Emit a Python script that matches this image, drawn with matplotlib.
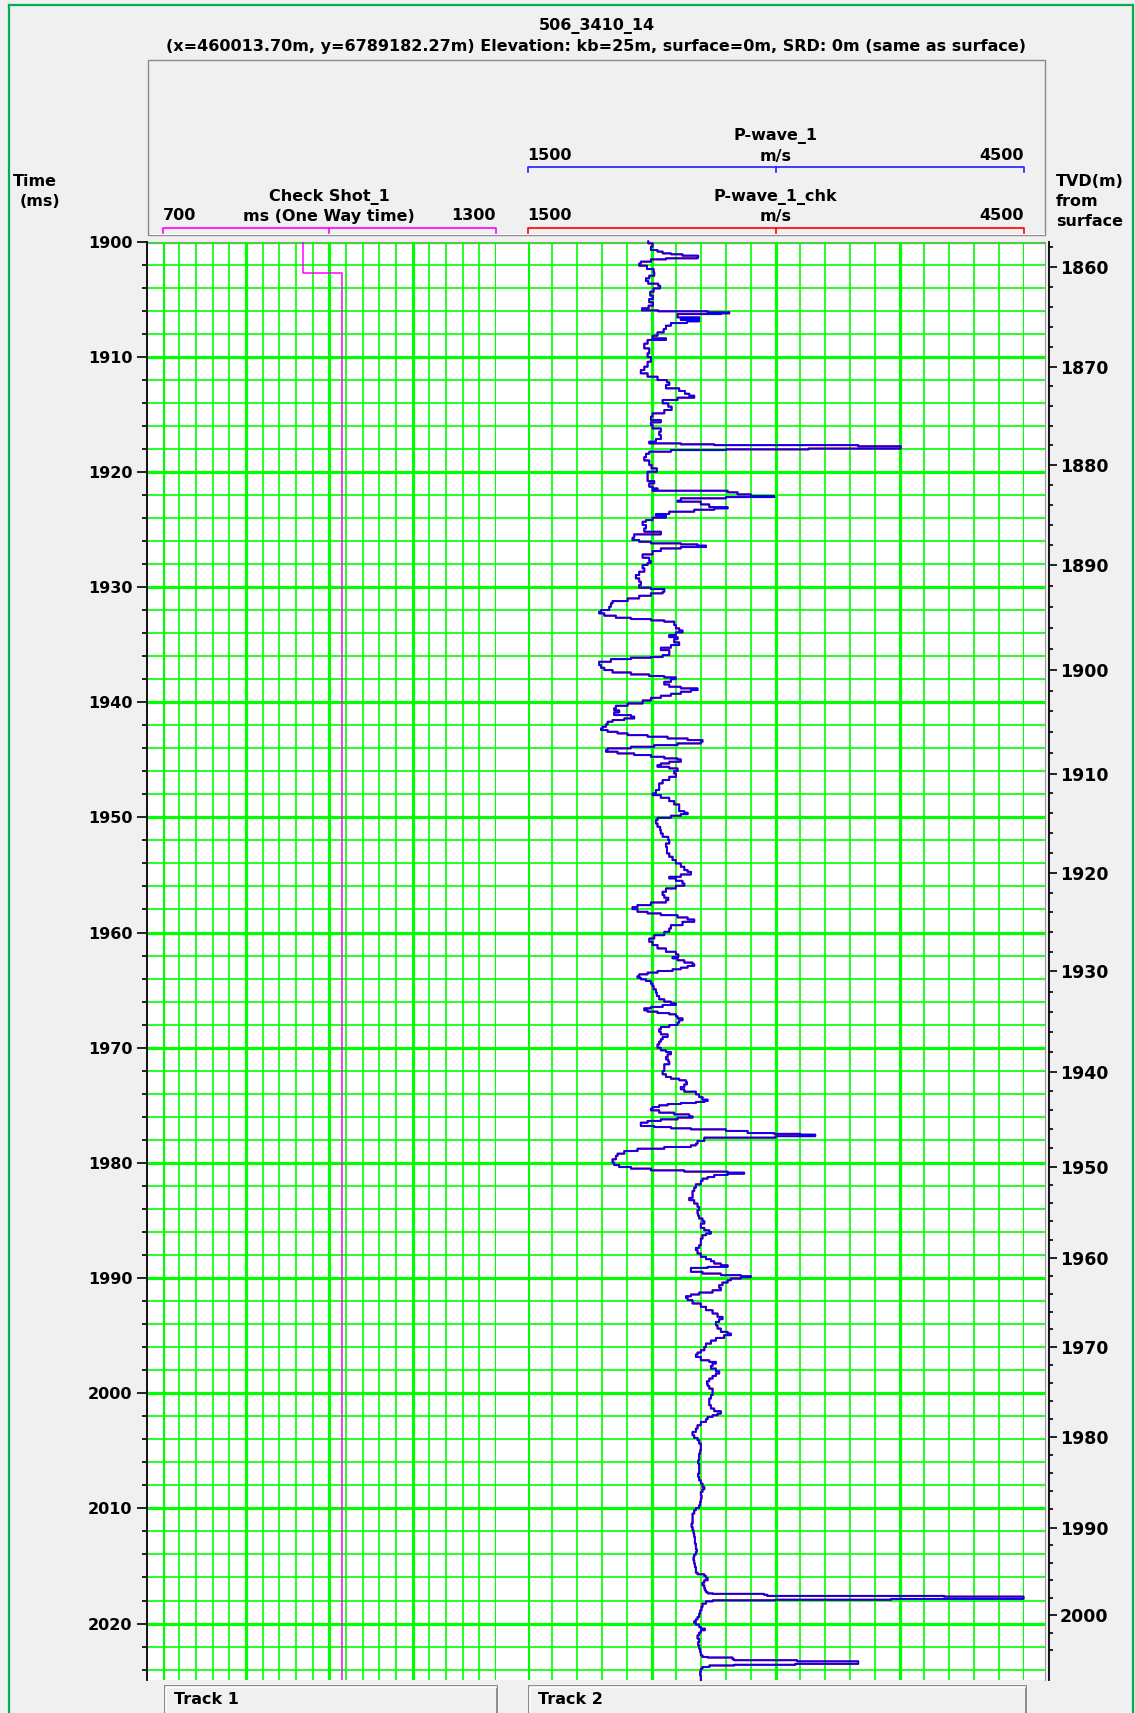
import numpy as np
import matplotlib
matplotlib.use('Agg')
import matplotlib.pyplot as plt
from matplotlib.patches import Rectangle

plt.rcParams['font.family'] = 'DejaVu Sans'
plt.rcParams['font.weight'] = 'bold'

# Figure size in pixels and colours
W, H = 1135, 1713
BG = '#f0f0f0'
GRID = '#00ff00'

# Display window (two-way time, ms)
T_TOP, T_BOT = 1900.0, 2024.9

# Layout in pixels (from top-left of the picture)
PLOT_L, PLOT_R, PLOT_T, PLOT_B = 148, 1045, 241.5, 1680
TRACK1 = (162.7, 496.0)
TRACK2 = (527.6, 1023.5)

# Track scales
cs_range = (700, 1300)
vel_range = (1500, 4500)

# Check Shot_1 (one way time, ms) against display time
cs_time = [1900.0, 1902.77, 1902.77, T_BOT]
cs_owt = [953, 953, 1023, 1023]

# TVD axis: label value and the display time where it sits
tvd_labels = [1860, 1870, 1880, 1890, 1900, 1910, 1920, 1930, 1940, 1950,
              1960, 1970, 1980, 1990, 2000]
tvd_times = [1902.19, 1910.87, 1919.42, 1928.08, 1937.19, 1946.20, 1954.84,
             1963.38, 1972.11, 1980.36, 1988.24, 1996.02, 2003.80, 2011.67,
             2019.28]

pwave_time = [
    1900.00, 1900.16, 1900.45, 1900.74, 1900.88, 1901.03, 1901.11, 1901.23, 1901.38, 1901.46,
    1901.55, 1901.75, 1901.92, 1902.10, 1902.39, 1902.68, 1902.97, 1903.20, 1903.43, 1903.66,
    1903.84, 1904.07, 1904.36, 1904.70, 1904.99, 1905.28, 1905.57, 1905.80, 1905.98, 1906.06,
    1906.15, 1906.24, 1906.30, 1906.47, 1906.59, 1906.70, 1906.82, 1906.93, 1907.08, 1907.31,
    1907.60, 1907.89, 1908.18, 1908.41, 1908.55, 1908.87, 1909.28, 1909.71, 1910.03, 1910.44,
    1910.87, 1911.16, 1911.45, 1911.74, 1912.03, 1912.23, 1912.46, 1912.75, 1912.98, 1913.22,
    1913.39, 1913.56, 1913.76, 1914.05, 1914.34, 1914.63, 1914.92, 1915.21, 1915.50, 1915.70,
    1915.94, 1916.23, 1916.52, 1916.80, 1917.15, 1917.38, 1917.53, 1917.61, 1917.68, 1917.78,
    1917.92, 1917.98, 1918.05, 1918.11, 1918.25, 1918.43, 1918.72, 1919.01, 1919.41, 1919.70,
    1919.99, 1920.28, 1920.57, 1920.80, 1921.00, 1921.29, 1921.44, 1921.58, 1921.64, 1921.78,
    1921.96, 1922.10, 1922.19, 1922.30, 1922.51, 1922.59, 1922.83, 1923.06, 1923.17, 1923.29,
    1923.46, 1923.66, 1923.81, 1923.98, 1924.19, 1924.33, 1924.62, 1924.91, 1925.20, 1925.43,
    1925.72, 1925.92, 1926.07, 1926.21, 1926.30, 1926.41, 1926.53, 1926.65, 1926.88, 1927.17,
    1927.46, 1927.75, 1927.92, 1928.09, 1928.38, 1928.67, 1928.96, 1929.25, 1929.54, 1929.83,
    1930.06, 1930.18, 1930.41, 1930.55, 1930.76, 1930.99, 1931.22, 1931.42, 1931.71, 1932.00,
    1932.15, 1932.29, 1932.49, 1932.67, 1932.78, 1932.90, 1933.01, 1933.30, 1933.59, 1933.77,
    1933.94, 1934.17, 1934.35, 1934.52, 1934.81, 1935.04, 1935.27, 1935.48, 1935.68, 1935.91,
    1936.08, 1936.14, 1936.26, 1936.49, 1936.78, 1937.01, 1937.21, 1937.42, 1937.59, 1937.73,
    1937.85, 1938.00, 1938.23, 1938.46, 1938.66, 1938.80, 1938.95, 1939.09, 1939.27, 1939.44,
    1939.62, 1939.85, 1940.11, 1940.31, 1940.54, 1940.71, 1940.89, 1941.12, 1941.26, 1941.41,
    1941.55, 1941.70, 1941.93, 1942.13, 1942.28, 1942.42, 1942.57, 1942.71, 1942.86, 1943.00,
    1943.15, 1943.29, 1943.44, 1943.58, 1943.73, 1943.87, 1944.01, 1944.16, 1944.30, 1944.45,
    1944.59, 1944.74, 1944.88, 1944.97, 1945.17, 1945.32, 1945.46, 1945.61, 1945.75, 1945.98,
    1946.19, 1946.48, 1946.76, 1947.05, 1947.34, 1947.63, 1947.92, 1948.07, 1948.30, 1948.59,
    1948.88, 1949.23, 1949.46, 1949.60, 1949.72, 1949.86, 1950.04, 1950.24, 1950.53, 1950.82,
    1951.11, 1951.40, 1951.69, 1951.98, 1952.27, 1952.55, 1952.84, 1953.13, 1953.42, 1953.71,
    1954.00, 1954.29, 1954.58, 1954.73, 1954.96, 1955.16, 1955.30, 1955.51, 1955.74, 1955.94,
    1956.17, 1956.46, 1956.75, 1956.98, 1957.19, 1957.39, 1957.62, 1957.79, 1957.97, 1958.20,
    1958.34, 1958.49, 1958.69, 1958.87, 1959.07, 1959.36, 1959.65, 1959.94, 1960.23, 1960.52,
    1960.80, 1961.09, 1961.38, 1961.67, 1961.90, 1962.12, 1962.24, 1962.41, 1962.61, 1962.76,
    1962.90, 1963.05, 1963.19, 1963.34, 1963.48, 1963.63, 1963.80, 1963.92, 1964.06, 1964.21,
    1964.44, 1964.64, 1964.93, 1965.22, 1965.51, 1965.80, 1966.00, 1966.15, 1966.29, 1966.46,
    1966.58, 1966.75, 1966.87, 1966.99, 1967.10, 1967.27, 1967.45, 1967.62, 1967.82, 1968.03,
    1968.20, 1968.40, 1968.61, 1968.84, 1969.07, 1969.27, 1969.47, 1969.71, 1970.00, 1970.23,
    1970.37, 1970.57, 1970.81, 1971.01, 1971.21, 1971.44, 1971.73, 1972.02, 1972.31, 1972.54,
    1972.69, 1972.83, 1972.98, 1973.18, 1973.41, 1973.61, 1973.82, 1974.05, 1974.28, 1974.51,
    1974.63, 1974.71, 1974.80, 1974.89, 1975.00, 1975.15, 1975.29, 1975.44, 1975.64, 1975.79,
    1975.96, 1976.07, 1976.22, 1976.36, 1976.51, 1976.65, 1976.80, 1976.89, 1977.00, 1977.09,
    1977.23, 1977.41, 1977.48, 1977.55, 1977.62, 1977.68, 1977.81, 1978.10, 1978.33, 1978.48,
    1978.62, 1978.77, 1978.97, 1979.20, 1979.40, 1979.69, 1979.98, 1980.19, 1980.36, 1980.50,
    1980.65, 1980.76, 1980.85, 1980.94, 1981.05, 1981.23, 1981.37, 1981.57, 1981.86, 1982.15,
    1982.44, 1982.73, 1983.04, 1983.24, 1983.53, 1983.82, 1984.11, 1984.40, 1984.60, 1984.83,
    1985.06, 1985.27, 1985.41, 1985.64, 1985.85, 1985.99, 1986.14, 1986.28, 1986.57, 1986.86,
    1987.15, 1987.38, 1987.58, 1987.87, 1988.16, 1988.36, 1988.54, 1988.74, 1988.89, 1989.03,
    1989.12, 1989.32, 1989.46, 1989.61, 1989.75, 1989.84, 1989.93, 1990.04, 1990.19, 1990.39,
    1990.62, 1990.85, 1991.06, 1991.26, 1991.43, 1991.58, 1991.72, 1991.92, 1992.21, 1992.50,
    1992.79, 1993.08, 1993.37, 1993.57, 1993.81, 1994.10, 1994.39, 1994.67, 1994.82, 1994.96,
    1995.20, 1995.43, 1995.69, 1995.98, 1996.27, 1996.47, 1996.64, 1996.85, 1997.14, 1997.28,
    1997.42, 1997.63, 1997.86, 1998.09, 1998.29, 1998.50, 1998.73, 1998.96, 1999.16, 1999.36,
    1999.60, 1999.89, 2000.17, 2000.46, 2000.75, 2001.04, 2001.33, 2001.56, 2001.77, 2001.91,
    2002.06, 2002.26, 2002.49, 2002.78, 2003.07, 2003.36, 2003.65, 2003.88, 2004.08, 2004.37,
    2004.66, 2004.95, 2005.24, 2005.53, 2005.82, 2006.11, 2006.40, 2006.69, 2006.98, 2007.27,
    2007.56, 2007.85, 2008.14, 2008.34, 2008.57, 2008.86, 2009.15, 2009.44, 2009.73, 2009.96,
    2010.16, 2010.45, 2010.74, 2011.03, 2011.32, 2011.61, 2011.90, 2012.19, 2012.48, 2012.77,
    2013.06, 2013.35, 2013.55, 2013.78, 2014.01, 2014.22, 2014.51, 2014.79, 2015.08, 2015.37,
    2015.58, 2015.72, 2015.87, 2016.04, 2016.24, 2016.45, 2016.68, 2016.91, 2017.11, 2017.26,
    2017.38, 2017.42, 2017.50, 2017.60, 2017.66, 2017.78, 2017.86, 2017.93, 2017.98, 2018.07,
    2018.27, 2018.56, 2018.85, 2019.14, 2019.43, 2019.63, 2019.80, 2019.95, 2020.09, 2020.30,
    2020.44, 2020.58, 2020.79, 2021.02, 2021.31, 2021.60, 2021.89, 2022.18, 2022.47, 2022.76,
    2022.90, 2022.95, 2023.10, 2023.18, 2023.28, 2023.40, 2023.50, 2023.58, 2023.64, 2023.77,
    2023.91, 2024.20, 2024.49, 2024.90,
]
pwave_vel = [
    2230, 2256, 2246, 2286, 2317, 2367, 2437, 2532, 2528, 2337,
    2246, 2185, 2175, 2222, 2262, 2266, 2236, 2216, 2230, 2290,
    2302, 2262, 2242, 2258, 2236, 2258, 2232, 2192, 2290, 2589,
    2720, 2670, 2407, 2407, 2538, 2427, 2538, 2464, 2367, 2337,
    2323, 2286, 2256, 2337, 2226, 2206, 2236, 2226, 2246, 2226,
    2206, 2185, 2226, 2286, 2343, 2357, 2337, 2417, 2452, 2478,
    2508, 2407, 2317, 2351, 2371, 2327, 2256, 2246, 2306, 2246,
    2256, 2306, 2296, 2306, 2276, 2236, 2427, 2629, 3500, 3757,
    3757, 3200, 2700, 2367, 2236, 2216, 2206, 2236, 2250, 2282,
    2226, 2226, 2226, 2266, 2236, 2256, 2286, 2256, 2710, 2770,
    2851, 2992, 2700, 2427, 2407, 2548, 2599, 2710, 2629, 2508,
    2357, 2276, 2337, 2256, 2216, 2196, 2216, 2206, 2306, 2145,
    2135, 2175, 2246, 2427, 2528, 2579, 2427, 2306, 2256, 2196,
    2236, 2246, 2226, 2196, 2206, 2175, 2155, 2175, 2185, 2175,
    2246, 2327, 2317, 2246, 2175, 2105, 2014, 2004, 1994, 1944,
    1933, 1964, 2034, 2125, 2246, 2327, 2387, 2397, 2417, 2437,
    2397, 2357, 2407, 2387, 2417, 2367, 2306, 2357, 2357, 2317,
    2246, 2125, 2004, 1933, 1944, 1964, 2014, 2125, 2236, 2327,
    2397, 2367, 2327, 2357, 2427, 2528, 2488, 2427, 2367, 2306,
    2246, 2196, 2105, 2034, 2024, 2054, 2024, 2125, 2145, 2085,
    2014, 1984, 1974, 1954, 1944, 1984, 2044, 2105, 2226, 2347,
    2468, 2558, 2548, 2407, 2266, 2125, 1984, 1974, 2044, 2145,
    2246, 2327, 2407, 2427, 2357, 2306, 2286, 2357, 2407, 2387,
    2397, 2357, 2317, 2296, 2296, 2276, 2256, 2306, 2357, 2387,
    2417, 2417, 2448, 2468, 2427, 2367, 2286, 2276, 2286, 2302,
    2306, 2317, 2351, 2357, 2337, 2343, 2343, 2357, 2377, 2397,
    2427, 2448, 2468, 2488, 2427, 2357, 2397, 2437, 2448, 2397,
    2337, 2317, 2327, 2351, 2337, 2246, 2165, 2135, 2165, 2226,
    2306, 2407, 2468, 2508, 2437, 2367, 2357, 2327, 2266, 2236,
    2256, 2286, 2337, 2397, 2412, 2377, 2407, 2448, 2498, 2508,
    2468, 2427, 2377, 2286, 2226, 2175, 2165, 2185, 2216, 2246,
    2256, 2262, 2276, 2282, 2296, 2327, 2367, 2397, 2317, 2246,
    2206, 2226, 2286, 2357, 2397, 2407, 2437, 2417, 2407, 2357,
    2306, 2296, 2306, 2347, 2317, 2306, 2296, 2286, 2306, 2337,
    2367, 2347, 2337, 2351, 2357, 2327, 2327, 2317, 2337, 2367,
    2417, 2458, 2464, 2448, 2427, 2448, 2518, 2538, 2558, 2589,
    2569, 2518, 2427, 2347, 2296, 2256, 2246, 2296, 2387, 2478,
    2498, 2407, 2306, 2226, 2185, 2185, 2266, 2367, 2488, 2700,
    2831, 2992, 3150, 3240, 3240, 3000, 2569, 2528, 2518, 2488,
    2327, 2165, 2085, 2044, 2034, 2014, 2024, 2054, 2125, 2246,
    2448, 2710, 2810, 2710, 2629, 2589, 2558, 2548, 2518, 2508,
    2498, 2498, 2478, 2508, 2528, 2538, 2528, 2532, 2538, 2558,
    2569, 2548, 2548, 2569, 2599, 2609, 2579, 2558, 2548, 2548,
    2538, 2518, 2528, 2548, 2579, 2609, 2629, 2669, 2710, 2589,
    2488, 2488, 2558, 2669, 2790, 2851, 2790, 2730, 2710, 2679,
    2659, 2669, 2619, 2538, 2488, 2458, 2468, 2498, 2548, 2579,
    2619, 2649, 2679, 2659, 2639, 2649, 2669, 2710, 2730, 2689,
    2639, 2609, 2579, 2569, 2548, 2528, 2518, 2548, 2599, 2639,
    2619, 2609, 2639, 2659, 2639, 2619, 2599, 2585, 2589, 2599,
    2619, 2619, 2609, 2599, 2599, 2609, 2629, 2669, 2649, 2619,
    2589, 2579, 2548, 2528, 2518, 2498, 2508, 2528, 2538, 2548,
    2548, 2544, 2538, 2538, 2532, 2538, 2538, 2538, 2532, 2538,
    2548, 2558, 2569, 2558, 2548, 2552, 2548, 2544, 2538, 2518,
    2508, 2498, 2498, 2498, 2492, 2498, 2504, 2508, 2512, 2512,
    2518, 2518, 2524, 2518, 2508, 2504, 2508, 2512, 2518, 2518,
    2528, 2569, 2579, 2589, 2569, 2558, 2569, 2572, 2579, 2589,
    2620, 2930, 2950, 4020, 4500, 4500, 3700, 3000, 2620, 2579,
    2558, 2552, 2544, 2538, 2528, 2518, 2508, 2518, 2538, 2548,
    2572, 2548, 2538, 2528, 2538, 2532, 2538, 2544, 2548, 2558,
    2589, 2740, 2750, 3130, 3500, 3500, 3120, 2750, 2600, 2558,
    2548, 2544, 2548, 2548,
]
# P-wave_1_chk sits on top of P-wave_1 almost everywhere
pwave_chk_vel = list(pwave_vel)


def fx(px):
    return px / W


def fy(py):
    return 1 - py / H


fig = plt.figure(figsize=(W / 100, H / 100), dpi=100, facecolor=BG)

# overlay in pixel units for header, frame and buttons
hdr = fig.add_axes([0, 0, 1, 1])
hdr.set_xlim(0, W)
hdr.set_ylim(H, 0)
hdr.axis('off')

# outer green frame
frame_kw = dict(color='#00b050', lw=1.6, clip_on=False)
hdr.plot([9, 9], [5, H + 5], **frame_kw)
hdr.plot([9, 1133], [5, 5], **frame_kw)
hdr.plot([1133, 1133], [5, H + 5], **frame_kw)

# titles
mid = (PLOT_L + PLOT_R) / 2
hdr.text(mid, 26, '506_3410_14', ha='center', va='center', fontsize=11.5)
hdr.text(mid, 47, '(x=460013.70m, y=6789182.27m) Elevation: kb=25m, surface=0m, SRD: 0m (same as surface)',
         ha='center', va='center', fontsize=11.5)

# header box
hdr.add_patch(Rectangle((PLOT_L, 60), PLOT_R - PLOT_L, 175, fill=False, ec='#8a8a8a', lw=1.0))
hdr.plot([PLOT_L + 1.5, PLOT_R - 1.5], [233.5, 233.5], color='white', lw=0.8)


def scale_bar(track, y, color, name, unit, lo, hi, name_y, unit_y):
    x0, x1 = track
    xm = (x0 + x1) / 2
    hdr.plot([x0, x0, x1, x1], [y + 5, y, y, y + 5], color=color, lw=1.2)
    hdr.plot([xm, xm], [y, y + 5], color=color, lw=1.2)
    hdr.text(xm, name_y, name, ha='center', va='center', fontsize=11.5)
    hdr.text(x0, unit_y, str(lo), ha='left', va='center', fontsize=11.5)
    hdr.text(xm, unit_y, unit, ha='center', va='center', fontsize=11.5)
    hdr.text(x1, unit_y, str(hi), ha='right', va='center', fontsize=11.5)


scale_bar(TRACK2, 167, '#2020ff', 'P-wave_1', 'm/s', vel_range[0], vel_range[1], 136, 156)
scale_bar(TRACK1, 228, '#ff00ff', 'Check Shot_1', 'ms (One Way time)', cs_range[0], cs_range[1], 197, 216)
scale_bar(TRACK2, 228, '#ff0000', 'P-wave_1_chk', 'm/s', vel_range[0], vel_range[1], 197, 216)

hdr.text(13, 181, 'Time', ha='left', va='center', fontsize=11.5)
hdr.text(20, 202, '(ms)', ha='left', va='center', fontsize=11.5)
hdr.text(1056, 181, 'TVD(m)', ha='left', va='center', fontsize=11.5)
hdr.text(1056, 202, 'from', ha='left', va='center', fontsize=11.5)
hdr.text(1056, 222, 'surface', ha='left', va='center', fontsize=11.5)

# track buttons at the bottom
for (x0, x1), label in [((165, 497), 'Track 1'), ((529, 1026), 'Track 2')]:
    hdr.add_patch(Rectangle((x0, 1686), x1 - x0, 40, fc=BG, ec='#7a7a7a', lw=1.2, clip_on=False))
    hdr.plot([x0 + 1, x0 + 1, x1 - 1], [1712, 1687, 1687], color='white', lw=1.2)
    hdr.text(x0 + 9, 1700, label, ha='left', va='center', fontsize=11.5)

# main plot area
rect = [fx(PLOT_L), fy(PLOT_B), fx(PLOT_R) - fx(PLOT_L), (PLOT_B - PLOT_T) / H]
ax = fig.add_axes(rect, facecolor='white')
ax.set_xlim(0, 1)
ax.set_ylim(T_BOT, T_TOP)
ax.set_xticks([])
for t in np.arange(1900, 2025, 2):
    ax.axhline(t, color=GRID, lw=2.3 if t % 10 == 0 else 1.2, zorder=1)

ax.set_yticks(np.arange(1900, 2021, 10))
ax.set_yticks(np.arange(1900, 2025, 2), minor=True)
ax.tick_params(axis='y', which='major', direction='out', length=7, width=1.2, labelsize=11.5, pad=3)
ax.tick_params(axis='y', which='minor', direction='out', length=3.5, width=1.2)
for lab in ax.get_yticklabels():
    lab.set_fontweight('bold')
ax.spines['left'].set_linewidth(1.3)
ax.spines['left'].set_position(('outward', 1))
ax.spines['bottom'].set_visible(False)
ax.spines['top'].set_color('#9a9a9a')
ax.spines['right'].set_color('#9a9a9a')

# TVD axis on the right
axr = ax.twinx()
axr.set_ylim(T_BOT, T_TOP)
axr.set_yticks(tvd_times)
axr.set_yticklabels([str(v) for v in tvd_labels])
slope_top = (tvd_times[1] - tvd_times[0]) / 10
slope_bot = (tvd_times[-1] - tvd_times[-2]) / 10
minor_t = []
for m in range(1858, 2006, 2):
    if m % 10 == 0:
        continue
    if m < tvd_labels[0]:
        minor_t.append(tvd_times[0] - (tvd_labels[0] - m) * slope_top)
    elif m > tvd_labels[-1]:
        minor_t.append(tvd_times[-1] + (m - tvd_labels[-1]) * slope_bot)
    else:
        minor_t.append(np.interp(m, tvd_labels, tvd_times))
axr.set_yticks(minor_t, minor=True)
axr.tick_params(axis='y', which='major', direction='out', length=6, width=1.2, pad=1.5, labelsize=12.5)
axr.tick_params(axis='y', which='minor', direction='out', length=3, width=1.2)
for lab in axr.get_yticklabels():
    lab.set_fontweight('bold')
for side in ['left', 'top', 'bottom']:
    axr.spines[side].set_visible(False)
axr.spines['right'].set_position(('outward', 3))
axr.spines['right'].set_linewidth(1.3)

# track 1: check shot
ax1 = fig.add_axes([fx(TRACK1[0]), fy(PLOT_B), (TRACK1[1] - TRACK1[0]) / W, (PLOT_B - PLOT_T) / H])
ax1.set_xlim(*cs_range)
ax1.set_ylim(T_BOT, T_TOP)
ax1.axis('off')
for x in range(cs_range[0], cs_range[1] + 1, 30):
    ax1.axvline(x, color=GRID, lw=2.3 if (x - cs_range[0]) % 150 == 0 else 1.2, zorder=1)
ax1.plot(cs_owt, cs_time, color='#ff00ff', lw=1.1, zorder=3)

# track 2: velocities, drawn as sampled steps
ax2 = fig.add_axes([fx(TRACK2[0]), fy(PLOT_B), (TRACK2[1] - TRACK2[0]) / W, (PLOT_B - PLOT_T) / H])
ax2.set_xlim(*vel_range)
ax2.set_ylim(T_BOT, T_TOP)
ax2.axis('off')
for x in range(vel_range[0], vel_range[1] + 1, 150):
    ax2.axvline(x, color=GRID, lw=2.3 if (x - vel_range[0]) % 750 == 0 else 1.2, zorder=1)
ax2.plot(pwave_chk_vel, pwave_time, color='#ff0000', lw=1.5, zorder=3, clip_on=False,
         drawstyle='steps-pre')
ax2.plot(pwave_vel, pwave_time, color='#0000ff', lw=1.3, zorder=4, clip_on=False,
         drawstyle='steps-pre')

fig.savefig('out.png', dpi=100, facecolor=BG)
